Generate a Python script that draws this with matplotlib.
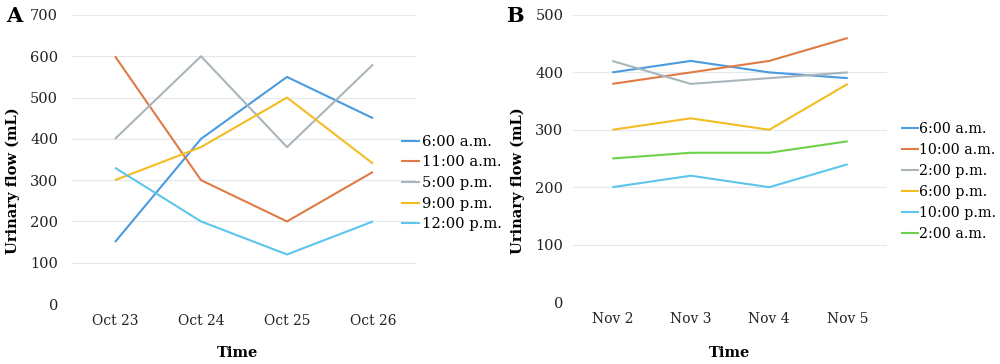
import matplotlib
matplotlib.use("Agg")
import matplotlib.pyplot as plt

# panel A
days_a = ["Oct 23", "Oct 24", "Oct 25", "Oct 26"]
labels_a = ["6:00 a.m.", "11:00 a.m.", "5:00 p.m.", "9:00 p.m.", "12:00 p.m."]
am6_a = [150, 400, 550, 450]
am11_a = [600, 300, 200, 320]
pm5_a = [400, 600, 380, 580]
pm9_a = [300, 380, 500, 340]
pm12_a = [330, 200, 120, 200]

# panel B
days_b = ["Nov 2", "Nov 3", "Nov 4", "Nov 5"]
labels_b = ["6:00 a.m.", "10:00 a.m.", "2:00 p.m.", "6:00 p.m.", "10:00 p.m.", "2:00 a.m."]
am6_b = [400, 420, 400, 390]
am10_b = [380, 400, 420, 460]
pm2_b = [420, 380, 390, 400]
pm6_b = [300, 320, 300, 380]
pm10_b = [200, 220, 200, 240]
am2_b = [250, 260, 260, 280]

BLUE = "#4A9BE0"
ORANGE = "#E07B45"
GRAY = "#A9B5BA"
YELLOW = "#F3BD22"
LIGHTBLUE = "#5CC6EC"
GREEN = "#6CD24A"

plt.rcParams.update({
    "font.family": "DejaVu Serif",
    "font.size": 10,
    "axes.linewidth": 0,
})

fig = plt.figure(figsize=(10, 3.64), dpi=100)


def panel(ax, days, series, labels, colors, ymax, ypad):
    x = range(len(days))
    for vals, lab, col in zip(series, labels, colors):
        ax.plot(x, vals, color=col, lw=1.5, label=lab, solid_capstyle="butt")
    ax.set_xlim(-0.5, len(days) - 0.5)
    ax.set_ylim(0, ymax)
    ax.set_yticks(range(0, ymax + 1, 100))
    ax.set_xticks(list(x))
    ax.set_xticklabels(days)
    ax.grid(True, axis="y", color="#E3E8EE", lw=0.8)
    ax.set_axisbelow(True)
    ax.tick_params(length=0, colors="#222222")
    ax.tick_params(axis="y", pad=ypad, labelsize=10.5)
    ax.tick_params(axis="x", pad=7, labelsize=10)
    for s in ax.spines.values():
        s.set_visible(False)


ax_a = fig.add_axes([0.072, 1 - 304 / 364, 0.344, (304 - 15) / 364])
panel(ax_a, days_a, [am6_a, am11_a, pm5_a, pm9_a, pm12_a], labels_a,
      [BLUE, ORANGE, GRAY, YELLOW, LIGHTBLUE], 700, 10)
ax_a.legend(loc="center left", bbox_to_anchor=(0.401, 0.497),
            bbox_transform=fig.transFigure, frameon=False, fontsize=10.6,
            handlelength=1.3, handletextpad=0.1, labelspacing=0.45,
            borderpad=0, borderaxespad=0)

ax_b = fig.add_axes([0.573, 1 - 302 / 364, 0.314, (302 - 15) / 364])
panel(ax_b, days_b, [am6_b, am10_b, pm2_b, pm6_b, pm10_b, am2_b], labels_b,
      [BLUE, ORANGE, GRAY, YELLOW, LIGHTBLUE, GREEN], 500, 7)
ax_b.legend(loc="center left", bbox_to_anchor=(0.901, 0.501),
            bbox_transform=fig.transFigure, frameon=False, fontsize=10.2,
            handlelength=1.3, handletextpad=0.0, labelspacing=0.5,
            borderpad=0, borderaxespad=0)

for xl, xt in [(0.013, 0.238), (0.518, 0.730)]:
    fig.text(xl, 1 - 181 / 364, "Urinary flow (mL)", rotation=90,
             ha="center", va="center", fontweight="bold", fontsize=10.5)
    fig.text(xt, 1 - 353 / 364, "Time", ha="center", va="center",
             fontweight="bold", fontsize=10.5)

fig.text(0.006, 1 - 16 / 364, "A", ha="left", va="center",
         fontweight="bold", fontsize=15)
fig.text(0.506, 1 - 16 / 364, "B", ha="left", va="center",
         fontweight="bold", fontsize=15)

fig.savefig("out.png", dpi=100, facecolor="white")
